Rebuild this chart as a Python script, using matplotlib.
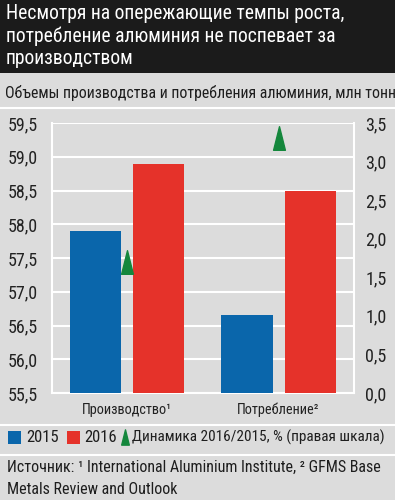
import numpy as np
import matplotlib.pyplot as plt
from matplotlib import font_manager as fm
from matplotlib.lines import Line2D
from matplotlib.patches import Rectangle
from matplotlib.path import Path

# pick a narrow face if one is there, else plain Roboto a bit smaller
have = {f.name for f in fm.fontManager.ttflist}
font = 'Roboto'
k = 0.85
for name in ['Roboto Condensed', 'PT Sans Narrow', 'Liberation Sans Narrow', 'Open Sans Condensed']:
    if name in have:
        font, k = name, 1.0
        break
plt.rcParams['font.family'] = [font, 'DejaVu Sans']

# data
categories = ['Производство¹', 'Потребление²']
vals_2015 = [57.9, 56.65]
vals_2016 = [58.9, 58.5]
growth = [1.7, 3.3]   # %, right axis

left_ticks = [55.5, 56.0, 56.5, 57.0, 57.5, 58.0, 58.5, 59.0, 59.5]
right_ticks = [0.0, 0.5, 1.0, 1.5, 2.0, 2.5, 3.0, 3.5]
legend_labels = ['2015', '2016', 'Динамика 2016/2015, % (правая шкала)']

bg = '#dcdcdc'
blue = '#0a66ab'
red = '#e5322a'
green = '#14873c'
ink = '#1e1e1e'

fig = plt.figure(figsize=(3.95, 5.0), dpi=100)
fig.patch.set_facecolor(bg)

W, H = 395, 500
def fx(px): return px / W
def fy(py): return 1 - py / H

# black title band
fig.patches.append(Rectangle((0, fy(73)), 1, 73 / H, transform=fig.transFigure,
                             facecolor='#1b1b1b', edgecolor='none', zorder=0))
fig.text(fx(6), fy(4), 'Несмотря на опережающие темпы роста,\nпотребление алюминия не поспевает за\nпроизводством',
         color='white', fontsize=14.1 * k, va='top', ha='left', linespacing=1.22)
fig.text(fx(5), fy(93), 'Объемы производства и потребления алюминия, млн тонн',
         color=ink, fontsize=11.4 * k, va='center', ha='left')

# white separator lines
for py in [108, 425, 455]:
    fig.add_artist(Line2D([0, 1], [fy(py), fy(py)], color='white', lw=1.5,
                          transform=fig.transFigure))

ax = fig.add_axes([fx(52), fy(393), fx(354) - fx(52), fy(123) - fy(393)])
ax.set_facecolor(bg)
x = np.arange(len(categories))
w = 0.337
off = 0.208
ax.bar(x - off, vals_2015, w, color=blue, zorder=3)
ax.bar(x + off, vals_2016, w, color=red, zorder=3)
ax.set_ylim(55.5, 59.5)
ax.set_xlim(-0.495, 1.498)
ax.set_yticks(left_ticks)
ax.set_yticklabels([f'{v:.1f}'.replace('.', ',') for v in left_ticks])
ax.set_xticks(x)
ax.set_xticklabels(categories)
ax.grid(axis='y', color='white', lw=1.5, zorder=0)
ax.tick_params(axis='y', length=0, pad=10, labelsize=13 * k, labelcolor='#222222')
ax.tick_params(axis='x', length=0, pad=7, labelsize=10.3 * k, labelcolor='#222222')
ax.spines['top'].set_visible(False)
for s in ['left', 'right', 'bottom']:
    ax.spines[s].set_color('white')
    ax.spines[s].set_linewidth(1.5)

tri = Path([(-0.5, -1), (0.5, -1), (0, 1), (-0.5, -1)],
           [Path.MOVETO, Path.LINETO, Path.LINETO, Path.CLOSEPOLY])
ax2 = ax.twinx()
ax2.plot(x, growth, ls='none', marker=tri, markersize=17, color=green, zorder=5)
ax2.set_ylim(0, 3.5)
ax2.set_yticks(right_ticks)
ax2.set_yticklabels([f'{v:.1f}'.replace('.', ',') for v in right_ticks])
ax2.tick_params(axis='y', length=0, pad=8, labelsize=13 * k, labelcolor='#222222')
for s in ax2.spines.values():
    s.set_visible(False)

# legend row, laid out by hand
ly = 437
fig.patches.append(Rectangle((fx(8), fy(444)), 13 / W, 13 / H, transform=fig.transFigure,
                             facecolor=blue, edgecolor='none'))
fig.text(fx(26), fy(ly), legend_labels[0], color=ink, fontsize=12 * k, va='center')
fig.patches.append(Rectangle((fx(67), fy(444)), 13 / W, 13 / H, transform=fig.transFigure,
                             facecolor=red, edgecolor='none'))
fig.text(fx(84), fy(ly), legend_labels[1], color=ink, fontsize=12 * k, va='center')
fig.add_artist(Line2D([fx(125)], [fy(ly)], ls='none', marker=tri, markersize=11,
                      color=green, transform=fig.transFigure))
fig.text(fx(132), fy(ly), legend_labels[2], color=ink, fontsize=11.0 * k, va='center')

fig.text(fx(7), fy(478), 'Источник: ¹ International Aluminium Institute, ² GFMS Base\nMetals Review and Outlook',
         color=ink, fontsize=11.5 * k, va='center', ha='left', linespacing=1.6)

fig.savefig('out.png', dpi=100, facecolor=bg)
